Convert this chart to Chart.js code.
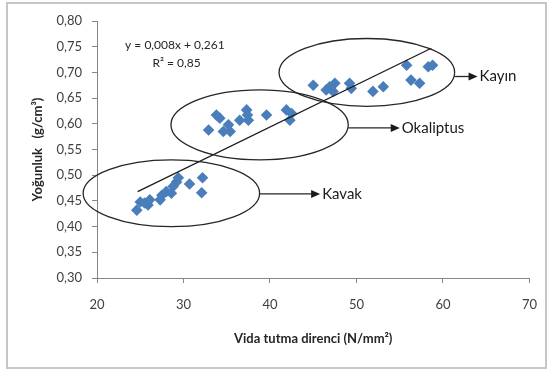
<!DOCTYPE html>
<html>
<head>
<meta charset="utf-8">
<script src="https://cdn.jsdelivr.net/npm/chart.js@4"></script>
<style>
    html, body { margin: 0; padding: 0; background: #fff; }
    #wrap { width: 551px; height: 372px; }
</style>
</head>
<body>
<div id="wrap"><canvas id="chart" width="551" height="372"></canvas></div>
<script>
// --- Data ---
const kavakX = [24.6, 25.0, 25.5, 25.9, 26.1, 27.3, 27.5, 28.0, 28.6, 28.8, 29.2, 29.4, 30.7, 32.2, 32.1];
const kavakY = [0.432, 0.448, 0.446, 0.442, 0.452, 0.452, 0.461, 0.468, 0.465, 0.478, 0.487, 0.495, 0.483, 0.495, 0.466];

const okaliptusX = [32.9, 33.8, 34.2, 34.6, 35.2, 35.4, 36.5, 37.3, 37.5, 37.4, 39.6, 41.9, 42.5, 42.3];
const okaliptusY = [0.588, 0.617, 0.611, 0.585, 0.598, 0.585, 0.607, 0.627, 0.607, 0.617, 0.617, 0.627, 0.620, 0.607];

const kayinX = [45.0, 46.5, 46.9, 47.5, 47.3, 49.2, 49.4, 51.9, 53.1, 55.8, 56.3, 57.3, 58.3, 58.8];
const kayinY = [0.675, 0.666, 0.672, 0.679, 0.663, 0.679, 0.669, 0.663, 0.672, 0.714, 0.685, 0.679, 0.711, 0.714];

// trend line ends, as drawn
const trendX = [24.7, 58.65];
const trendY = [0.468, 0.747];

const xTicks = [20, 30, 40, 50, 60, 70];
const yTicks = [0.30, 0.35, 0.40, 0.45, 0.50, 0.55, 0.60, 0.65, 0.70, 0.75, 0.80];

const groupNames = ["Kavak", "Okaliptus", "Kayın"];
const equationText = ["y = 0,008x + 0,261", "R² = 0,85"];

// --- Annotations (in data units) ---
const groupRings = [
    { cx: 28.6, cy: 0.465, rx: 10.2, ry: 0.065, tipX: 45.8, arrowY: 0.4635 },
    { cx: 38.8, cy: 0.598, rx: 10.25, ry: 0.068, tipX: 55.0, arrowY: 0.592 },
    { cx: 51.2, cy: 0.700, rx: 10.15, ry: 0.066, tipX: 64.0, arrowY: 0.692 }
];
const equationPos = [{ x: 29.0, y: 0.753 }, { x: 29.2, y: 0.718 }];

const toPoints = (xs, ys) => xs.map((x, i) => ({ x: x, y: ys[i] }));

const markerStyle = {
    type: 'scatter',
    pointStyle: 'rectRot',
    pointRadius: 5.8,
    pointBackgroundColor: '#4a7ebb',
    pointBorderColor: '#4a7ebb',
    pointBorderWidth: 0,
    order: 1
};

const frame = {
    id: 'frame',
    beforeDraw(chart) {
        const ctx = chart.ctx;
        ctx.save();
        ctx.fillStyle = '#fff';
        ctx.fillRect(0, 0, chart.width, chart.height);
        ctx.strokeStyle = '#c6c6c6';
        ctx.lineWidth = 2;
        ctx.strokeRect(7, 3, 539, 365);
        ctx.restore();
    }
};

const notes = {
    id: 'notes',
    afterDatasetsDraw(chart) {
        const ctx = chart.ctx;
        const xs = chart.scales.x, ys = chart.scales.y;
        const kx = xs.getPixelForValue(1) - xs.getPixelForValue(0);
        const ky = ys.getPixelForValue(0) - ys.getPixelForValue(1);
        ctx.save();
        ctx.strokeStyle = '#262626';
        ctx.fillStyle = '#1a1a1a';
        ctx.lineWidth = 1.3;
        groupRings.forEach((g, i) => {
            const cx = xs.getPixelForValue(g.cx), cy = ys.getPixelForValue(g.cy);
            ctx.beginPath();
            ctx.ellipse(cx, cy, g.rx * kx, g.ry * ky, 0, 0, Math.PI * 2);
            ctx.stroke();

            // arrow from the ring to the name
            const ay = ys.getPixelForValue(g.arrowY);
            const x0 = cx + g.rx * kx;
            const tip = xs.getPixelForValue(g.tipX);
            ctx.beginPath();
            ctx.moveTo(x0, ay);
            ctx.lineTo(tip - 7, ay);
            ctx.stroke();
            ctx.beginPath();
            ctx.moveTo(tip, ay);
            ctx.lineTo(tip - 9, ay - 4);
            ctx.lineTo(tip - 9, ay + 4);
            ctx.closePath();
            ctx.fill();

            ctx.font = '15px Lato';
            ctx.fillStyle = '#1a1a1a';
            ctx.textAlign = 'left';
            ctx.textBaseline = 'middle';
            ctx.fillText(groupNames[i], tip + 2, ay);
        });

        ctx.font = '12px Lato';
        ctx.fillStyle = '#262626';
        ctx.textAlign = 'center';
        ctx.textBaseline = 'middle';
        equationText.forEach((t, i) => {
            ctx.fillText(t, xs.getPixelForValue(equationPos[i].x), ys.getPixelForValue(equationPos[i].y));
        });
        ctx.restore();
    }
};

new Chart(document.getElementById('chart'), {
    type: 'scatter',
    data: {
        datasets: [
            Object.assign({ label: groupNames[0], data: toPoints(kavakX, kavakY) }, markerStyle),
            Object.assign({ label: groupNames[1], data: toPoints(okaliptusX, okaliptusY) }, markerStyle),
            Object.assign({ label: groupNames[2], data: toPoints(kayinX, kayinY) }, markerStyle),
            {
                type: 'line',
                label: 'Trend',
                data: toPoints(trendX, trendY),
                borderColor: '#1a1a1a',
                borderWidth: 1.2,
                pointRadius: 0,
                fill: false,
                order: 0
            }
        ]
    },
    options: {
        responsive: false,
        animation: false,
        layout: { padding: { left: 26, top: 21, right: 21, bottom: 21 } },
        plugins: {
            legend: { display: false },
            tooltip: { enabled: false }
        },
        scales: {
            x: {
                type: 'linear',
                min: xTicks[0],
                max: xTicks[xTicks.length - 1],
                afterBuildTicks: (scale) => { scale.ticks = xTicks.map(v => ({ value: v })); },
                afterFit: (scale) => { scale.height = 73; },
                ticks: { color: '#404040', font: { family: 'Lato', size: 13 }, padding: 14 },
                grid: { drawOnChartArea: false, tickLength: 5, color: '#868686' },
                border: { color: '#868686' },
                title: {
                    display: true,
                    text: 'Vida tutma direnci (N/mm²)',
                    color: '#262626',
                    font: { family: 'Lato', size: 13, weight: 'bold' },
                    padding: { top: 4, bottom: 4 }
                }
            },
            y: {
                type: 'linear',
                min: yTicks[0],
                max: yTicks[yTicks.length - 1],
                afterBuildTicks: (scale) => { scale.ticks = yTicks.map(v => ({ value: v })); },
                afterFit: (scale) => { scale.width = 71; },
                ticks: {
                    color: '#404040',
                    font: { family: 'Lato', size: 13 },
                    padding: 10,
                    callback: (v) => v.toFixed(2).replace('.', ',')
                },
                grid: { drawOnChartArea: false, tickLength: 5, color: '#868686' },
                border: { color: '#868686' },
                title: {
                    display: true,
                    text: 'Yoğunluk   (g/cm³)',
                    color: '#262626',
                    font: { family: 'Lato', size: 13, weight: 'bold' },
                    padding: { top: 4, bottom: 4 }
                }
            }
        }
    },
    plugins: [frame, notes]
});
</script>
</body>
</html>
